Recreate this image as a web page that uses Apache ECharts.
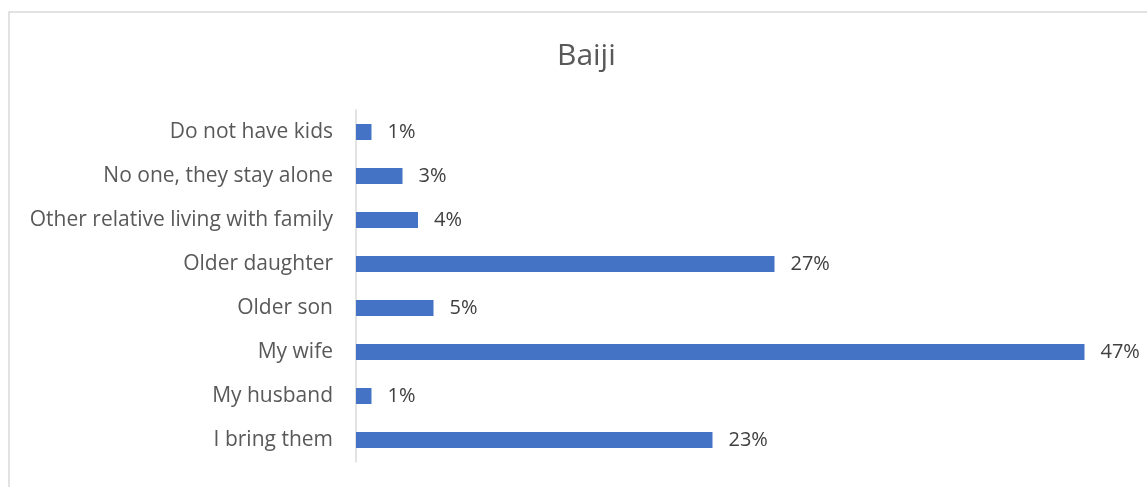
<!DOCTYPE html>
<html>
<head>
<meta charset="utf-8">
<script src="https://cdn.jsdelivr.net/npm/echarts@6/dist/echarts.min.js"></script>
<style>
  html, body { margin: 0; padding: 0; background: #fff; }
  #chart { width: 1147px; height: 487px; }
</style>
</head>
<body>
<div id="chart"></div>
<script>
// 数据 - 从上到下
const categories = ['Do not have kids', 'No one, they stay alone', 'Other relative living with family',
  'Older daughter', 'Older son', 'My wife', 'My husband', 'I bring them']
const shares = [1, 3, 4, 27, 5, 47, 1, 23]

const chart = echarts.init(document.getElementById('chart'))
const option = {
  animation: false,
  title: {
    text: 'Baiji',
    left: 552,
    top: 36,
    textStyle: {
      color: '#595959',
      fontSize: 30,
      fontWeight: 'normal',
      fontFamily: 'Open Sans'
    }
  },
  // 外框
  graphic: [{
    type: 'rect',
    shape: { x: 9, y: 12, width: 1150, height: 490 },
    style: { fill: 'none', stroke: '#d9d9d9', lineWidth: 1.5 },
    silent: true
  }],
  grid: {
    left: 356,
    right: 16,
    top: 110,
    height: 352,
    containLabel: false
  },
  xAxis: {
    type: 'value',
    min: 0,
    max: 50,
    show: false
  },
  yAxis: {
    type: 'category',
    inverse: true,
    data: categories,
    axisTick: { show: false },
    axisLine: { lineStyle: { color: '#d9d9d9', width: 1.5 } },
    axisLabel: {
      color: '#595959',
      fontSize: 21,
      margin: 23,
      padding: [3, 0, 0, 0],
      fontFamily: 'Open Sans'
    }
  },
  series: [{
    type: 'bar',
    data: shares,
    barWidth: 16,
    itemStyle: { color: '#4472c4' },
    label: {
      show: true,
      position: 'right',
      distance: 16,
      padding: [3, 0, 0, 0],
      formatter: '{c}%',
      color: '#404040',
      fontSize: 20,
      fontFamily: 'Open Sans'
    }
  }]
}
chart.setOption(option)
</script>
</body>
</html>
